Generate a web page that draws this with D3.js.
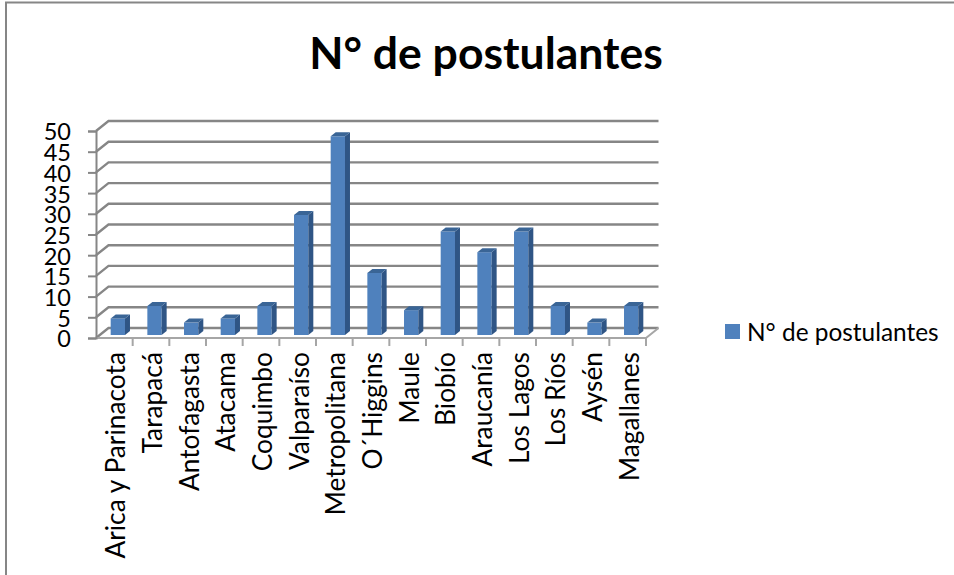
<!DOCTYPE html>
<html lang="en">
<head>
<meta charset="utf-8">
<script src="https://d3js.org/d3.v7.min.js"></script>
<style>
  html, body { margin: 0; padding: 0; background: #fff; overflow: hidden; }
  text { font-family: Lato, "Open Sans", sans-serif; fill: #000; }
</style>
</head>
<body>
<script>
// data
const categories = ["Arica y Parinacota", "Tarapacá", "Antofagasta", "Atacama", "Coquimbo", "Valparaíso", "Metropolitana", "O´Higgins", "Maule", "Biobío", "Araucanía", "Los Lagos", "Los Ríos", "Aysén", "Magallanes"];
const values = [4, 7, 3, 4, 7, 29, 48, 15, 6, 25, 20, 25, 7, 3, 7];
const yTicks = [0, 5, 10, 15, 20, 25, 30, 35, 40, 45, 50];
const seriesName = "N° de postulantes";

const width = 954, height = 575;
const depthX = 12.5, depthY = 10;     // depth of the chart floor
const barDepthX = 5, barDepthY = 4;   // depth of a bar
const grey = "#868686";

const svg = d3.select("body").append("svg")
    .attr("width", width)
    .attr("height", height)
    .style("display", "block");

// outer frame, only top and left show in the crop
svg.append("path")
    .attr("d", `M${width},2.5H6V${height}`)
    .attr("fill", "none")
    .attr("stroke", grey)
    .attr("stroke-width", 2);

const x = d3.scaleBand().domain(categories).range([96, 646]).paddingInner(0.61).paddingOuter(0.305);
const y = d3.scaleLinear().domain([0, 50]).range([338, 131]);
const bandStep = x.step();

// gridlines on the back wall with their slanted side wall part
svg.append("g").selectAll("path")
    .data(yTicks)
    .join("path")
    .attr("d", d => `M${x.range()[0]},${y(d)}l${depthX},${-depthY}H${x.range()[1] + depthX}`)
    .attr("fill", "none")
    .attr("stroke", grey)
    .attr("stroke-width", 2.4);

// floor front and right edge
svg.append("path")
    .attr("d", `M${x.range()[0]},${y(0)}H${x.range()[1]}l${depthX},${-depthY}`)
    .attr("fill", "none")
    .attr("stroke", "#a6a6a6")
    .attr("stroke-width", 2);

// y axis
const yAxis = svg.append("g")
    .attr("transform", `translate(${x.range()[0]},0)`)
    .call(d3.axisLeft(y).tickValues(yTicks).tickSize(8).tickPadding(17));
yAxis.selectAll("line, path").attr("stroke", grey).attr("stroke-width", 2);
yAxis.selectAll("text").attr("font-size", 23.5).style("font-family", "Lato, sans-serif").attr("dy", "0.38em");

// x axis ticks sit on the band edges, so drawn from the band step
const xAxis = svg.append("g");
xAxis.selectAll("line")
    .data(categories)
    .join("line")
    .attr("x1", d => x(d) + x.bandwidth() / 2 + bandStep / 2)
    .attr("x2", d => x(d) + x.bandwidth() / 2 + bandStep / 2)
    .attr("y1", y(0))
    .attr("y2", y(0) + 8)
    .attr("stroke", "#a6a6a6")
    .attr("stroke-width", 2);
xAxis.selectAll("text")
    .data(categories)
    .join("text")
    .attr("transform", d => `translate(${x(d) + x.bandwidth() / 2 + 11},352) rotate(-90)`)
    .attr("text-anchor", "end")
    .attr("font-size", 26.3)
    .text(d => d);

// bars, shifted half way into the floor depth
const offX = 3.5, offY = -3;
const bars = svg.append("g").selectAll("g")
    .data(categories.map((c, i) => ({c: c, v: values[i]})))
    .join("g")
    .attr("transform", `translate(${offX},${offY})`);

const barW = x.bandwidth();
bars.append("rect")
    .attr("x", d => x(d.c))
    .attr("y", d => y(d.v))
    .attr("width", barW)
    .attr("height", d => y(0) - y(d.v))
    .attr("fill", "#4f81bd");
// side face
bars.append("path")
    .attr("d", d => `M${x(d.c) + barW},${y(d.v)}l${barDepthX},${-barDepthY}V${y(0) - barDepthY}l${-barDepthX},${barDepthY}Z`)
    .attr("fill", "#2f5585");
// top face
bars.append("path")
    .attr("d", d => `M${x(d.c)},${y(d.v)}l${barDepthX},${-barDepthY}h${barW}l${-barDepthX},${barDepthY}Z`)
    .attr("fill", "#3a6596");

// title
svg.append("text")
    .attr("x", 486)
    .attr("y", 69)
    .attr("text-anchor", "middle")
    .attr("font-size", 44.5)
    .attr("font-weight", 700)
    .text(seriesName);

// legend
svg.append("rect")
    .attr("x", 725)
    .attr("y", 324)
    .attr("width", 15)
    .attr("height", 15)
    .attr("fill", "#4f81bd");
svg.append("text")
    .attr("x", 747)
    .attr("y", 341)
    .attr("font-size", 24.4)
    .text(seriesName);
</script>
</body>
</html>
